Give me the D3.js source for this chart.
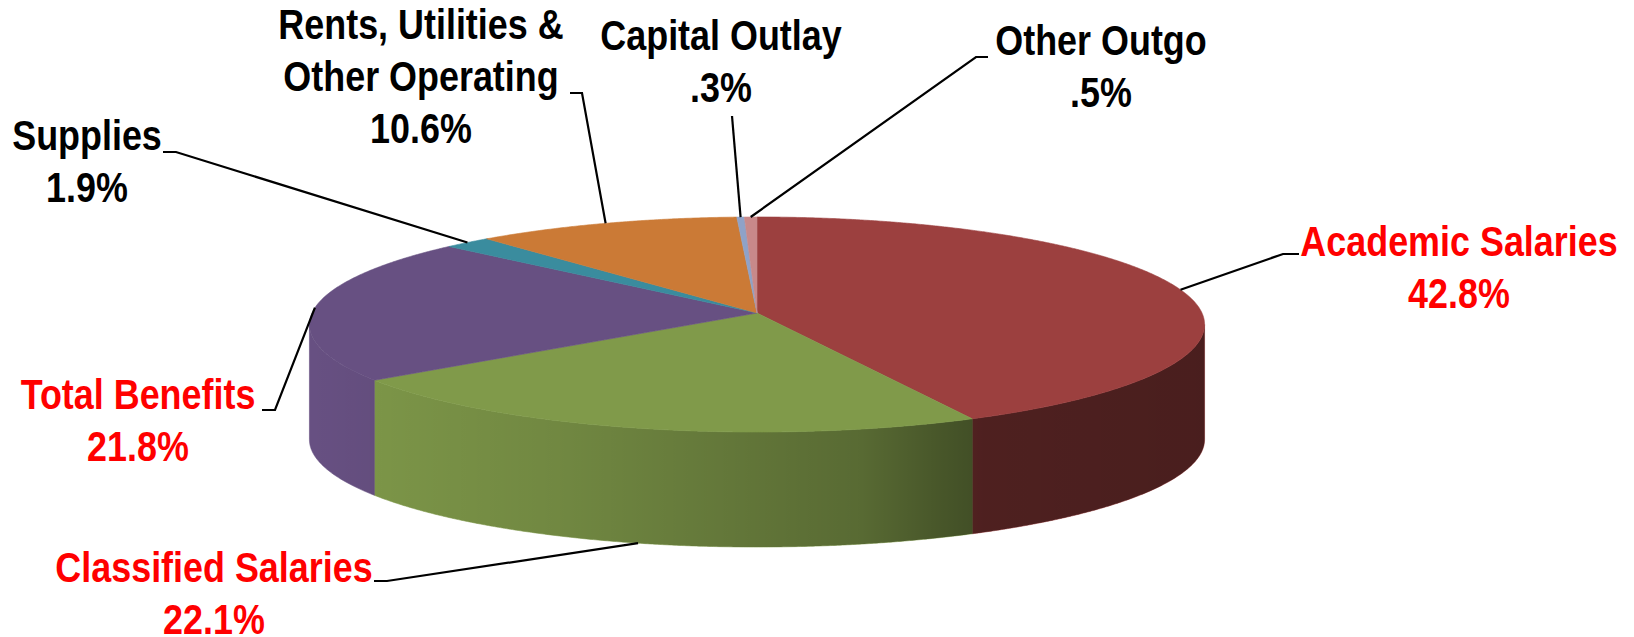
<!DOCTYPE html>
<html>
<head>
<meta charset="utf-8">
<script src="https://cdn.jsdelivr.net/npm/d3@7"></script>
<style>
  body { margin: 0; background: #ffffff; }
  #chart text {
    font-family: "Liberation Sans", Arial, sans-serif;
    font-weight: bold;
    font-size: 43px;
  }
</style>
</head>
<body>
<div id="chart"></div>
<script>
// data (share of total, %)
var categories = ["Academic Salaries", "Classified Salaries", "Total Benefits", "Supplies",
                  "Rents, Utilities & Other Operating", "Capital Outlay", "Other Outgo"];
var values = [42.8, 22.1, 21.8, 1.9, 10.6, 0.3, 0.5];
var valueLabels = ["42.8%", "22.1%", "21.8%", "1.9%", "10.6%", ".3%", ".5%"];
var nameLines = [["Academic Salaries"], ["Classified Salaries"], ["Total Benefits"], ["Supplies"],
                 ["Rents, Utilities &", "Other Operating"], ["Capital Outlay"], ["Other Outgo"]];
var highlighted = ["Academic Salaries", "Classified Salaries", "Total Benefits"];

// slice colours (top face)
var colors = ["#9c403f", "#809a4a", "#675082", "#3a8c9e", "#cb7a36", "#8fa2c8", "#c8898a"];

// label placement: centre x, first baseline, leader start x/y and elbow x
var labelLayout = [
  {x: 1459, y: 256, lead: [1299, 254, 1283]},
  {x: 214,  y: 582, lead: [374, 581, 387]},
  {x: 138,  y: 409, lead: [262, 410, 275]},
  {x: 87,   y: 150, lead: [163, 152, 176]},
  {x: 421,  y: 39,  lead: [570, 93, 582]},
  {x: 721,  y: 50,  lead: [732, 116, 732]},
  {x: 1101, y: 55,  lead: [988, 57, 976]}
];

var width = 1634, height = 637;

// pie geometry (a little perspective, like the Excel 3-D pie)
var cx = 757, cy = 313, R = 445, ry = 106.3, depth = 115, persp = 0.107;
var lineH = 52;
// no narrow font installed: squeeze Liberation Sans like Calibri
var squeeze = 0.835;

var svg = d3.select("#chart")
  .append("svg")
    .attr("width", width)
    .attr("height", height);

// project an angle (clockwise from 12 o'clock) onto the tilted disc
function project(a, z) {
  var u = Math.sin(a), v = -Math.cos(a);
  var d = 1 - persp * v;
  return [cx + R * u / d, cy + ry * v / d + (z || 0)];
}

function sample(a0, a1) {
  var n = Math.max(2, Math.ceil(Math.abs(a1 - a0) / 0.005));
  return d3.range(n + 1).map(function(i) { return a0 + (a1 - a0) * i / n; });
}

var pie = d3.pie().sort(null).value(function(d) { return d; });
var arcs = pie(values);
var line = d3.line();

// side shading: Excel lights the wall from the left
var xLeft = cx - R / Math.sqrt(1 - persp * persp),
    xRight = cx + R / Math.sqrt(1 - persp * persp);
var defs = svg.append("defs");
var shade = defs.append("linearGradient")
    .attr("id", "sideShade")
    .attr("gradientUnits", "userSpaceOnUse")
    .attr("x1", xLeft).attr("x2", xRight)
    .attr("y1", 0).attr("y2", 0);
var shadeStops = [[309, 0.0], [386, 0.04], [560, 0.12], [860, 0.31], [940, 0.44], [983, 0.5], [1204, 0.53]];
shade.selectAll("stop")
  .data(shadeStops)
  .join("stop")
    .attr("offset", function(d) { return (d[0] - xLeft) / (xRight - xLeft); })
    .attr("stop-color", "#000")
    .attr("stop-opacity", function(d) { return d[1]; });

// visible part of the wall lies between the two silhouette angles
var wallA0 = Math.acos(-persp), wallA1 = 2 * Math.PI - wallA0;

var walls = arcs.map(function(d, i) {
  var a0 = Math.max(d.startAngle, wallA0), a1 = Math.min(d.endAngle, wallA1);
  if (a1 <= a0) return null;
  var top = sample(a0, a1).map(function(a) { return project(a, 0); });
  var bottom = sample(a0, a1).reverse().map(function(a) { return project(a, depth); });
  return {i: i, path: line(top.concat(bottom)) + "Z"};
}).filter(function(d) { return d; });

var wallG = svg.append("g");
wallG.selectAll("path.wall")
  .data(walls)
  .join("path")
    .attr("class", "wall")
    .attr("d", function(d) { return d.path; })
    .attr("fill", function(d) { return colors[d.i]; })
    .attr("stroke", function(d) { return colors[d.i]; })
    .attr("stroke-width", 0.6);
wallG.selectAll("path.shade")
  .data(walls)
  .join("path")
    .attr("class", "shade")
    .attr("d", function(d) { return d.path; })
    .attr("fill", "url(#sideShade)");

// top faces
svg.append("g")
  .selectAll("path")
  .data(arcs)
  .join("path")
    .attr("d", function(d) {
      var pts = [[cx, cy]].concat(sample(d.startAngle, d.endAngle).map(function(a) { return project(a, 0); }));
      return line(pts) + "Z";
    })
    .attr("fill", function(d, i) { return colors[i]; })
    .attr("stroke", function(d, i) { return colors[i]; })
    .attr("stroke-width", 0.6);

// leader lines: anchor on the slice middle, on the bottom rim for front slices
var leaders = svg.append("g");
arcs.forEach(function(d, i) {
  var mid = (d.startAngle + d.endAngle) / 2;
  var anchor = project(mid, Math.cos(mid) < 0 ? depth : 0);
  var L = labelLayout[i].lead;
  leaders.append("path")
    .attr("d", line([[L[0], L[1]], [L[2], L[1]], anchor]))
    .attr("fill", "none")
    .attr("stroke", "#000")
    .attr("stroke-width", 2.2);
});

// data labels
var labels = svg.append("g")
  .selectAll("text")
  .data(arcs)
  .join("text")
    .attr("text-anchor", "middle")
    .attr("transform", function(d, i) {
      return "translate(" + labelLayout[i].x + "," + labelLayout[i].y + ") scale(" + squeeze + ",1)";
    })
    .attr("fill", function(d, i) { return highlighted.indexOf(categories[i]) >= 0 ? "#ff0000" : "#000000"; });

labels.each(function(d, i) {
  var t = d3.select(this);
  var rows = nameLines[i].concat([valueLabels[i]]);
  rows.forEach(function(r, k) {
    t.append("tspan")
      .attr("x", 0)
      .attr("y", k * lineH)
      .text(r);
  });
});
</script>
</body>
</html>
